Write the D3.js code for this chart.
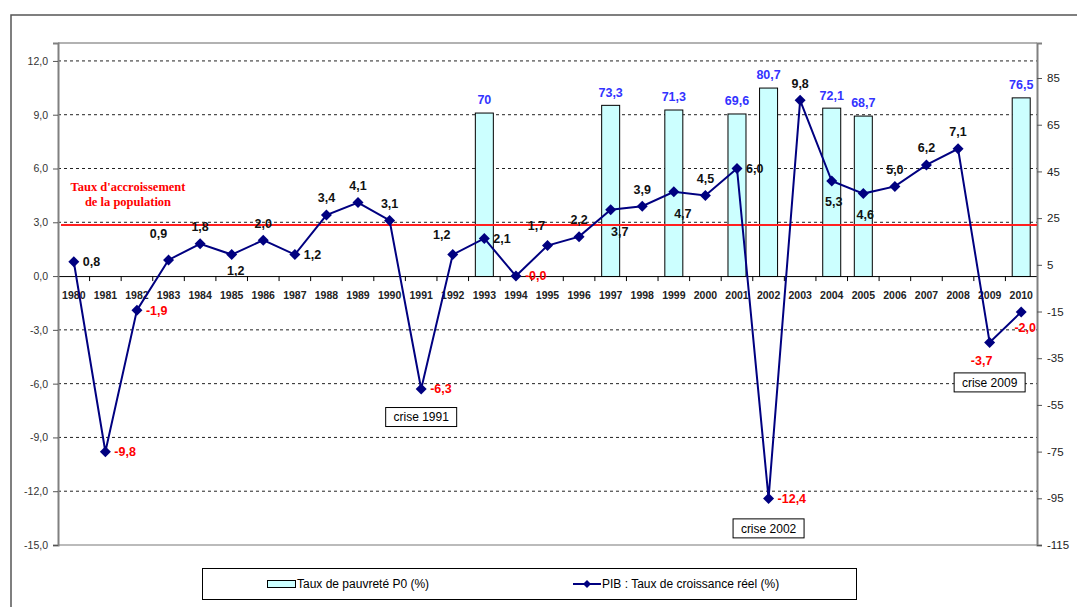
<!DOCTYPE html>
<html><head><meta charset="utf-8">
<script src="https://cdn.jsdelivr.net/npm/d3@7"></script>
<style>body{margin:0;background:#fff;overflow:hidden} svg{display:block}</style>
</head><body>
<svg id="c" width="1077" height="607"></svg>
<script>
// ---------- DATA ----------
const years = ["1980","1981","1982","1983","1984","1985","1986","1987","1988","1989","1990","1991","1992","1993","1994","1995","1996","1997","1998","1999","2000","2001","2002","2003","2004","2005","2006","2007","2008","2009","2010"];
const pibGrowth = [0.8,-9.8,-1.9,0.9,1.8,1.2,2.0,1.2,3.4,4.1,3.1,-6.3,1.2,2.1,-0.0,1.7,2.2,3.7,3.9,4.7,4.5,6.0,-12.4,9.8,5.3,4.6,5.0,6.2,7.1,-3.7,-2.0];
const pibLabelPlacement = ["r","r","r","tl2","t","bs","t","r","t","t","t","r","tl","r","r","tl","t","br","t","br","t","r","r","t","b","b","t","t","t","bl","bs"];
const povertyYears = ["1993","1997","1999","2001","2002","2004","2005","2010"];
const povertyRate = [70,73.3,71.3,69.6,80.7,72.1,68.7,76.5];
const leftTicks = [-15,-12,-9,-6,-3,0,3,6,9,12];
const rightTicks = [-115,-95,-75,-55,-35,-15,5,25,45,65,85];
const populationGrowth = 2.85;
const populationLabel = ["Taux d'accroissement","de la population"];
const crisisYears = ["1991","2002","2009"];
const crisisLabels = ["crise 1991","crise 2002","crise 2009"];
const legendLabels = ["Taux de pauvreté P0 (%)","PIB : Taux de croissance réel (%)"];

// ---------- LAYOUT ----------
const W = 1077, H = 607;
const plot = {l:58, r:1037, t:43, b:545};
const svg = d3.select("#c");
const FONT = "'Liberation Sans', Arial, sans-serif";

const x = d3.scaleBand().domain(years).range([plot.l, plot.r]).padding(0);
const yL = d3.scaleLinear().domain([-15, 13]).range([plot.b, plot.t]);
const yR = d3.scaleLinear().domain([-115, 100]).range([plot.b, plot.t]);
const cx = d => x(d) + x.bandwidth()/2;

const fmt1 = v => ((v < 0 || Object.is(v, -0)) ? "-" : "") + Math.abs(v).toFixed(1).replace(".", ",");
const fmtP = v => String(v).replace(".", ",");

// outer chart border
svg.append("path").attr("d", `M11,${H} L11,15 L${W},15`).attr("fill","none").attr("stroke","#555").attr("stroke-width",1.5);

// gridlines
svg.append("g").selectAll("line").data(leftTicks.filter(t => t !== 0 && t !== -15)).join("line")
  .attr("x1", plot.l).attr("x2", plot.r).attr("y1", d => yL(d)).attr("y2", d => yL(d))
  .attr("stroke","#222").attr("stroke-width",1).attr("stroke-dasharray","3,3");

// plot border top & bottom
svg.append("line").attr("x1",plot.l).attr("x2",plot.r).attr("y1",plot.t).attr("y2",plot.t).attr("stroke","#999").attr("stroke-width",1.5);
svg.append("line").attr("x1",plot.l).attr("x2",plot.r).attr("y1",plot.b).attr("y2",plot.b).attr("stroke","#bbb").attr("stroke-width",2);

// bars
const bw = x.bandwidth()*0.57;
const barData = povertyYears.map((y,i)=>({y, v:povertyRate[i]}));
svg.append("g").selectAll("rect").data(barData).join("rect")
  .attr("x", d => cx(d.y) - bw/2).attr("width", bw)
  .attr("y", d => yR(d.v)).attr("height", d => yR(0) - yR(d.v))
  .attr("fill","#ccffff").attr("stroke","#000").attr("stroke-width",1);

// bar labels
svg.append("g").selectAll("text").data(barData).join("text")
  .attr("x", d => cx(d.y)).attr("y", d => yR(d.v) - 13).attr("dy","0.35em")
  .attr("text-anchor","middle").attr("font-family",FONT).attr("font-weight","bold").attr("font-size","12.5px")
  .attr("fill","#3333ff").text(d => fmtP(d.v));

// x axis (zero line)
const xAxis = svg.append("g").attr("transform",`translate(0,${yL(0)})`)
  .call(d3.axisBottom(x).tickSize(0).tickPadding(15));
xAxis.select(".domain").attr("stroke","#000").attr("stroke-width",1);
xAxis.selectAll("text").attr("font-family",FONT).attr("font-weight","bold").attr("font-size","10.5px").attr("fill","#222");
// category boundary ticks
svg.append("g").selectAll("line").data(years.slice(1)).join("line")
  .attr("x1", d => x(d)).attr("x2", d => x(d)).attr("y1", yL(0)).attr("y2", yL(0)+5)
  .attr("stroke","#000").attr("stroke-width",1);

// left axis
const lAxis = svg.append("g").attr("transform",`translate(${plot.l},0)`)
  .call(d3.axisLeft(yL).tickValues(leftTicks).tickFormat(fmt1).tickSize(5).tickPadding(5));
lAxis.select(".domain").attr("stroke","#808080").attr("stroke-width",2);
lAxis.selectAll(".tick line").attr("stroke","#555");
lAxis.selectAll("text").attr("font-family",FONT).attr("font-size","10.5px").attr("fill","#333");

// right axis
const rAxis = svg.append("g").attr("transform",`translate(${plot.r},0)`)
  .call(d3.axisRight(yR).tickValues(rightTicks).tickFormat(d => String(d)).tickSize(5).tickPadding(5));
rAxis.select(".domain").attr("stroke","#808080").attr("stroke-width",2);
rAxis.selectAll(".tick line").attr("stroke","#555");
rAxis.selectAll("text").attr("font-family",FONT).attr("font-size","11.5px").attr("fill","#222");

// population growth line
svg.append("line").attr("x1",plot.l+3).attr("x2",plot.r).attr("y1",yL(populationGrowth)).attr("y2",yL(populationGrowth))
  .attr("stroke","#ff2020").attr("stroke-width",2);
svg.append("g").selectAll("text").data(populationLabel).join("text")
  .attr("x", 128).attr("y", (d,i) => 187 + i*15).attr("dy","0.35em")
  .attr("text-anchor","middle").attr("font-family","'Liberation Serif', 'Times New Roman', serif")
  .attr("font-weight","bold").attr("font-size","12.5px").attr("fill","#ff0000").text(d => d);

// PIB line
const pts = years.map((y,i) => ({y, v:pibGrowth[i], p:pibLabelPlacement[i]}));
svg.append("path").datum(pts)
  .attr("d", d3.line().x(d => cx(d.y)).y(d => yL(d.v)))
  .attr("fill","none").attr("stroke","#000080").attr("stroke-width",2);
svg.append("g").selectAll("path").data(pts).join("path")
  .attr("d","M0,-5.5L5.5,0L0,5.5L-5.5,0Z")
  .attr("transform", d => `translate(${cx(d.y)},${yL(d.v)})`)
  .attr("fill","#000080");

// PIB labels
const place = {
  r:  {dx:9,  dy:0,   a:"start"},
  t:  {dx:0,  dy:-17, a:"middle"},
  tl: {dx:-11,dy:-20, a:"middle"},
  tl2:{dx:-10,dy:-26, a:"middle"},
  b:  {dx:2,  dy:21,  a:"middle"},
  bs: {dx:4,  dy:16,  a:"middle"},
  br: {dx:9,  dy:22,  a:"middle"},
  bl: {dx:-8, dy:18,  a:"middle"}
};
svg.append("g").selectAll("text").data(pts).join("text")
  .attr("x", d => cx(d.y) + place[d.p].dx).attr("y", d => yL(d.v) + place[d.p].dy).attr("dy","0.35em")
  .attr("text-anchor", d => place[d.p].a)
  .attr("font-family",FONT).attr("font-weight","bold").attr("font-size","12.5px")
  .attr("fill", d => (d.v < 0 || Object.is(d.v,-0)) ? "#ff0000" : "#111")
  .text(d => fmt1(d.v));

// crisis annotations
const crisisOffset = {"1991":28, "2002":30, "2009":40};
crisisYears.forEach((cy, i) => {
  const v = pibGrowth[years.indexOf(cy)];
  const gx = cx(cy), gy = yL(v) + crisisOffset[cy];
  const g = svg.append("g");
  g.append("rect").attr("x", gx - 35.5).attr("y", gy - 9.5).attr("width", 71).attr("height", 19)
    .attr("fill","#fff").attr("stroke","#000").attr("stroke-width",1);
  g.append("text").attr("x", gx).attr("y", gy).attr("dy","0.35em").attr("text-anchor","middle")
    .attr("font-family",FONT).attr("font-size","12px").attr("fill","#000").text(crisisLabels[i]);
});

// legend
const lg = svg.append("g");
lg.append("rect").attr("x",202.5).attr("y",568.5).attr("width",654).attr("height",31)
  .attr("fill","#fff").attr("stroke","#000").attr("stroke-width",1);
const ly = 584;
lg.append("rect").attr("x",267.5).attr("y",ly-3.5).attr("width",28).attr("height",7)
  .attr("fill","#ccffff").attr("stroke","#000").attr("stroke-width",1);
lg.append("text").attr("x",297).attr("y",ly).attr("dy","0.35em").attr("font-family",FONT).attr("font-size","12px").attr("fill","#000").text(legendLabels[0]);
lg.append("line").attr("x1",573).attr("x2",601).attr("y1",ly).attr("y2",ly).attr("stroke","#000080").attr("stroke-width",2);
lg.append("path").attr("d","M0,-4L4,0L0,4L-4,0Z").attr("transform",`translate(587,${ly})`).attr("fill","#000080");
lg.append("text").attr("x",602).attr("y",ly).attr("dy","0.35em").attr("font-family",FONT).attr("font-size","12px").attr("fill","#000").text(legendLabels[1]);
</script>
</body></html>
